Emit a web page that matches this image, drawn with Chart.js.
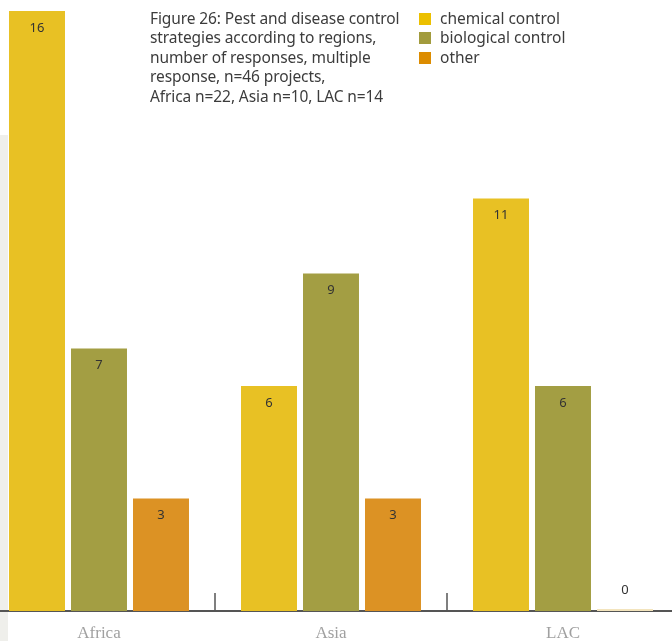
<!DOCTYPE html>
<html>
<head>
<meta charset="utf-8">
<script src="https://cdn.jsdelivr.net/npm/chart.js@4/dist/chart.umd.min.js"></script>
<style>
  html, body { margin: 0; padding: 0; background: #fff; overflow: hidden; }
  body { width: 672px; height: 641px; position: relative; }
  #strip { position: absolute; left: 0; top: 135px; width: 8px; height: 506px; background: #efefeb; }
  #wrap { position: absolute; left: -17px; top: 0; width: 696px; height: 641px; }
  #title { position: absolute; left: 150px; top: 9px; font: 15.5px "Noto Sans", sans-serif; line-height: 19.4px; color: #3c3c3c; letter-spacing: -0.1px; }
  #legend { position: absolute; left: 419px; top: 9px; font: 15.5px "Noto Sans", sans-serif; line-height: 19.4px; color: #3c3c3c; }
  #legend div { display: flex; align-items: center; }
  #legend span.box { width: 12px; height: 12px; margin-right: 9px; display: inline-block; }
</style>
</head>
<body>
<div id="strip"></div>
<div id="wrap"><canvas id="chart"></canvas></div>
<div id="title">Figure 26: Pest and disease control<br>strategies according to regions,<br>number of responses, multiple<br>response, n=46 projects,<br>Africa n=22, Asia n=10, LAC n=14</div>
<div id="legend"></div>
<script>
const regions = ['Africa', 'Asia', 'LAC'];
const seriesNames = ['chemical control', 'biological control', 'other'];
const chemical = [16, 6, 11];
const biological = [7, 9, 6];
const other = [3, 3, 0];

const barColors = ['#e8c124', '#a39e43', '#dc9224'];
const legendColors = ['#ecc000', '#a29b3d', '#dc8c00'];

// legend built from the series names
const legend = document.getElementById('legend');
seriesNames.forEach((name, i) => {
    const row = document.createElement('div');
    row.innerHTML = '<span class="box" style="background:' + legendColors[i] + '"></span>' + name;
    legend.appendChild(row);
});

// value labels inside the top of each bar
const valueLabels = {
    id: 'valueLabels',
    afterDatasetsDraw(chart) {
        const ctx = chart.ctx;
        ctx.save();
        ctx.font = '13px "Noto Sans", sans-serif';
        ctx.fillStyle = '#333';
        ctx.textAlign = 'center';
        ctx.textBaseline = 'middle';
        chart.data.datasets.forEach((ds, di) => {
            chart.getDatasetMeta(di).data.forEach((bar, i) => {
                const v = ds.data[i];
                const y = v === 0 ? bar.base - 21 : bar.y + 17;
                ctx.fillText(String(v), bar.x, y);
            });
        });
        ctx.restore();
    }
};

// short upward ticks between the region groups
const groupTicks = {
    id: 'groupTicks',
    afterDraw(chart) {
        const x = chart.scales.x;
        const ctx = chart.ctx;
        const bottom = chart.chartArea.bottom;
        ctx.save();
        ctx.strokeStyle = '#555';
        ctx.lineWidth = 1.5;
        for (let i = 0; i < regions.length - 1; i++) {
            const px = (x.getPixelForValue(i) + x.getPixelForValue(i + 1)) / 2;
            ctx.beginPath();
            ctx.moveTo(px, bottom);
            ctx.lineTo(px, bottom - 18);
            ctx.stroke();
        }
        ctx.restore();
    }
};

new Chart(document.getElementById('chart'), {
    type: 'bar',
    data: {
        labels: regions,
        datasets: [
            { label: seriesNames[0], data: chemical, backgroundColor: barColors[0] },
            { label: seriesNames[1], data: biological, backgroundColor: barColors[1] },
            { label: seriesNames[2], data: other, backgroundColor: [barColors[2], barColors[2], '#f3e4bd'], minBarLength: 2 }
        ]
    },
    options: {
        responsive: true,
        maintainAspectRatio: false,
        animation: false,
        layout: { padding: { top: 11, left: 0, right: 0, bottom: 0 } },
        datasets: {
            bar: { categoryPercentage: 0.8017, barPercentage: 0.903 }
        },
        plugins: {
            legend: { display: false },
            tooltip: { enabled: false }
        },
        scales: {
            x: {
                grid: { display: false, drawTicks: false },
                border: { display: true, color: '#555', width: 2 },
                ticks: {
                    color: '#a0a0a0',
                    font: { family: '"Liberation Serif", serif', size: 17 },
                    padding: 12
                },
                afterFit: s => { s.height = 30; }
            },
            y: {
                display: false,
                min: 0,
                max: 16
            }
        }
    },
    plugins: [valueLabels, groupTicks]
});
</script>
</body>
</html>
